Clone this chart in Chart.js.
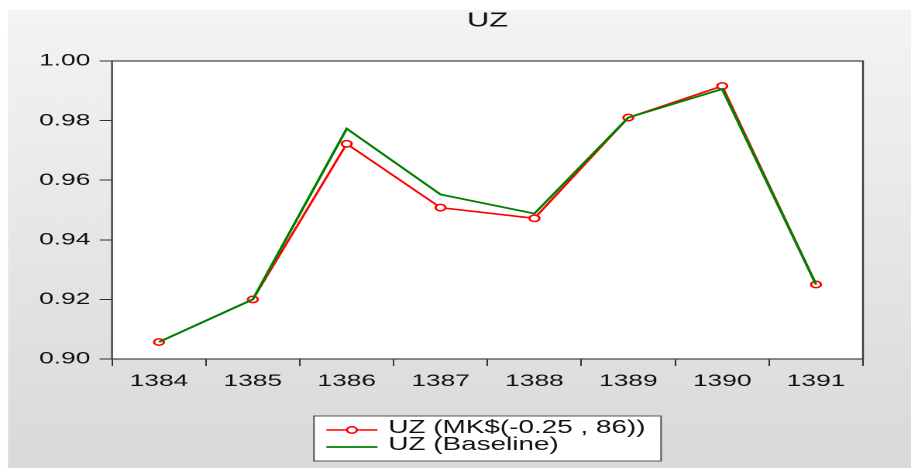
<!DOCTYPE html>
<html>
<head>
<meta charset="utf-8">
<script src="https://cdn.jsdelivr.net/npm/chart.js@4.4.1/dist/chart.umd.min.js"></script>
<style>
  html, body { margin: 0; padding: 0; background: #fff; overflow: hidden; }
  #wrap { width: 911px; height: 468px; position: relative; }
  /* the reference picture is stretched sideways, so the chart is drawn narrow and widened */
  #c { position: absolute; left: 0; top: 0; transform-origin: 0 0; }
</style>
</head>
<body>
<div id="wrap"><canvas id="c"></canvas></div>
<script>
const years = ['1384', '1385', '1386', '1387', '1388', '1389', '1390', '1391'];
const uzMK = [0.9057, 0.9200, 0.9722, 0.9508, 0.9472, 0.9810, 0.9916, 0.9250];
const uzBaseline = [0.9057, 0.9200, 0.9773, 0.9552, 0.9488, 0.9810, 0.9906, 0.9250];
const seriesNames = ['UZ (MK$(-0.25 , 86))', 'UZ (Baseline)'];
const yTicks = { min: 0.90, max: 1.00, step: 0.02 };

const W = 588, H = 468;
const stretch = 911 / W;
const fontFam = '"Liberation Sans", Arial, sans-serif';

const canvas = document.getElementById('c');
canvas.style.width = W + 'px';
canvas.style.height = H + 'px';
canvas.style.transform = 'scaleX(' + stretch + ')';

// gray panel, white plot area and frame
const backdrop = {
    id: 'backdrop',
    beforeDraw(chart) {
        const ctx = chart.ctx, a = chart.chartArea;
        ctx.save();
        ctx.fillStyle = '#fff';
        ctx.fillRect(0, 0, W, H);
        const g = ctx.createLinearGradient(0, 10, 0, H);
        g.addColorStop(0, '#f4f4f4');
        g.addColorStop(1, '#d9d9d9');
        ctx.fillStyle = g;
        ctx.fillRect(8 / stretch, 10, W, H);
        ctx.fillStyle = '#fff';
        ctx.fillRect(a.left, a.top, a.right - a.left, a.bottom - a.top);
        ctx.restore();
    },
    afterDraw(chart) {
        const ctx = chart.ctx, a = chart.chartArea;
        ctx.save();
        ctx.strokeStyle = '#404040';
        ctx.lineWidth = 1.2;
        ctx.strokeRect(a.left, a.top, a.right - a.left, a.bottom - a.top);
        ctx.restore();
    }
};

// boxed legend under the plot, one row per series
const boxLegend = {
    id: 'boxLegend',
    afterDraw(chart) {
        const ctx = chart.ctx, a = chart.chartArea;
        const sets = chart.data.datasets;
        ctx.save();
        ctx.font = '18px ' + fontFam;
        let tw = 0;
        sets.forEach(d => { tw = Math.max(tw, ctx.measureText(d.label).width); });
        const bw = 48 + tw + 10, bh = 45;
        const bx = (a.left + a.right) / 2 - bw / 2, by = 416;
        ctx.fillStyle = '#fff';
        ctx.fillRect(bx, by, bw, bh);
        ctx.strokeStyle = '#555';
        ctx.lineWidth = 1;
        ctx.strokeRect(bx, by, bw, bh);
        const rows = [14, 31];
        sets.forEach((d, i) => {
            const ly = by + rows[i];
            ctx.strokeStyle = d.borderColor;
            ctx.lineWidth = d.borderWidth;
            ctx.beginPath();
            ctx.moveTo(bx + 8, ly);
            ctx.lineTo(bx + 41, ly);
            ctx.stroke();
            if (d.pointRadius > 0) {
                ctx.fillStyle = '#fff';
                ctx.lineWidth = d.pointBorderWidth;
                ctx.beginPath();
                ctx.arc(bx + 24.5, ly, d.pointRadius, 0, Math.PI * 2);
                ctx.fill();
                ctx.stroke();
            }
            ctx.fillStyle = '#111';
            ctx.textBaseline = 'middle';
            ctx.textAlign = 'left';
            ctx.fillText(d.label, bx + 48, ly - 2);
        });
        ctx.restore();
    }
};

new Chart(canvas, {
    type: 'line',
    data: {
        labels: years,
        datasets: [
            {
                label: seriesNames[0],
                data: uzMK,
                borderColor: '#ff0000',
                borderWidth: 1.6,
                pointRadius: 3.2,
                pointBorderWidth: 1.5,
                pointBackgroundColor: '#fff',
                pointBorderColor: '#ff0000',
                order: 2
            },
            {
                label: seriesNames[1],
                data: uzBaseline,
                borderColor: '#008000',
                borderWidth: 1.8,
                pointRadius: 0,
                order: 1
            }
        ]
    },
    options: {
        responsive: false,
        animation: false,
        devicePixelRatio: 2,
        layout: { padding: { left: 0, right: 31, top: 0, bottom: 69 } },
        plugins: {
            legend: { display: false },
            tooltip: { enabled: false },
            title: {
                display: true,
                text: 'UZ',
                fullSize: false,
                color: '#111',
                font: { family: fontFam, size: 20, weight: 'normal' },
                padding: { top: 9, bottom: 28 }
            }
        },
        scales: {
            x: {
                offset: true,
                border: { display: false },
                grid: { offset: true, drawOnChartArea: false, tickLength: 7, color: '#333' },
                ticks: { color: '#111', padding: 5, maxRotation: 0, font: { family: fontFam, size: 17 } },
                afterFit(scale) { scale.height = 40; }
            },
            y: {
                min: yTicks.min,
                max: yTicks.max,
                border: { display: false },
                grid: { drawOnChartArea: false, tickLength: 8, color: '#333' },
                ticks: {
                    stepSize: yTicks.step,
                    color: '#111',
                    padding: 6,
                    font: { family: fontFam, size: 17 },
                    callback: v => Number(v).toFixed(2)
                },
                afterFit(scale) { scale.width = 72.3; }
            }
        }
    },
    plugins: [backdrop, boxLegend]
});
</script>
</body>
</html>
